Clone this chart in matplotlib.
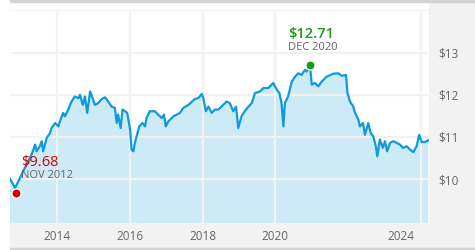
import matplotlib
matplotlib.use("Agg")
import matplotlib.pyplot as plt
from matplotlib.patches import Rectangle
from matplotlib.transforms import ScaledTranslation

plt.rcParams['font.family'] = ['Open Sans', 'DejaVu Sans']

# ========================
# Data (decimal years / price in $)
# ========================
years = [
    2012.71, 2012.85, 2012.94, 2013.03, 2013.12, 2013.21, 2013.30, 2013.40, 2013.44, 2013.53,
    2013.58, 2013.62, 2013.72, 2013.81, 2013.85, 2013.95, 2014.04, 2014.08, 2014.17, 2014.22,
    2014.31, 2014.40, 2014.49, 2014.59, 2014.63, 2014.71, 2014.77, 2014.83, 2014.91, 2014.98,
    2015.04, 2015.13, 2015.23, 2015.32, 2015.41, 2015.50, 2015.59, 2015.64, 2015.68, 2015.75,
    2015.80, 2015.87, 2015.93, 2016.01, 2016.05, 2016.10, 2016.14, 2016.21, 2016.26, 2016.35,
    2016.42, 2016.46, 2016.55, 2016.69, 2016.78, 2016.88, 2016.94, 2016.99, 2017.06, 2017.20,
    2017.38, 2017.47, 2017.61, 2017.79, 2017.88, 2017.98, 2018.02, 2018.09, 2018.16, 2018.25,
    2018.34, 2018.43, 2018.52, 2018.66, 2018.75, 2018.84, 2018.92, 2018.98, 2019.07, 2019.16,
    2019.26, 2019.35, 2019.44, 2019.58, 2019.67, 2019.81, 2019.94, 2020.04, 2020.11, 2020.17,
    2020.22, 2020.26, 2020.35, 2020.45, 2020.54, 2020.63, 2020.72, 2020.81, 2020.86, 2020.95,
    2021.00, 2021.09, 2021.18, 2021.27, 2021.41, 2021.59, 2021.73, 2021.82, 2021.94, 2021.98,
    2022.05, 2022.14, 2022.19, 2022.28, 2022.32, 2022.41, 2022.46, 2022.55, 2022.62, 2022.69,
    2022.76, 2022.80, 2022.87, 2022.95, 2023.01, 2023.07, 2023.15, 2023.24, 2023.33, 2023.42,
    2023.51, 2023.61, 2023.70, 2023.79, 2023.88, 2023.95, 2024.02, 2024.11, 2024.20,
]
prices = [
    10.01, 9.79, 9.95, 10.11, 10.27, 10.42, 10.58, 10.82, 10.66, 10.78,
    10.90, 10.66, 10.98, 11.09, 11.21, 11.33, 11.25, 11.37, 11.57, 11.49,
    11.65, 11.84, 11.96, 11.92, 12.00, 11.76, 11.96, 11.57, 12.08, 11.92,
    11.76, 11.80, 11.90, 11.94, 11.84, 11.72, 11.69, 11.33, 11.53, 11.21,
    11.65, 11.61, 11.57, 11.17, 10.70, 10.66, 10.86, 11.09, 11.25, 11.33,
    11.25, 11.45, 11.61, 11.61, 11.53, 11.45, 11.53, 11.25, 11.37, 11.49,
    11.57, 11.69, 11.76, 11.90, 11.92, 12.02, 11.92, 11.61, 11.72, 11.57,
    11.65, 11.65, 11.72, 11.84, 11.80, 11.61, 11.72, 11.21, 11.49, 11.61,
    11.72, 11.80, 12.04, 12.08, 12.16, 12.16, 12.28, 12.12, 12.04, 11.80,
    11.25, 11.80, 11.96, 12.31, 12.43, 12.51, 12.47, 12.59, 12.55, 12.71,
    12.24, 12.28, 12.20, 12.31, 12.43, 12.50, 12.51, 12.45, 12.47, 12.04,
    11.84, 11.72, 11.57, 11.41, 11.25, 11.33, 11.05, 11.33, 11.09, 11.01,
    10.78, 10.54, 10.94, 10.74, 10.90, 10.66, 10.86, 10.90, 10.86, 10.82,
    10.74, 10.78, 10.70, 10.64, 10.78, 11.05, 10.88, 10.88, 10.92,
]

low_point = (2012.87, 9.68)
high_point = (2020.95, 12.71)
low_labels = ("$9.68", "NOV 2012")
high_labels = ("$12.71", "DEC 2020")

x_ticks = [2014, 2016, 2018, 2020, 2024]
y_ticks = [10, 11, 12, 13, 14]
y_tick_labels = ["$10", "$11", "$12", "$13", ""]

# ========================
# Figure / frame
# ========================
W, H = 475, 250
fig = plt.figure(figsize=(W / 100, H / 100), dpi=100)

panel = "#f2f2f2"
# right side panel and bottom panel (behind the axes)
fig.patches.append(Rectangle((429 / W, 2 / H), 46 / W, 246 / H, transform=fig.transFigure,
                             color=panel, zorder=-1))
fig.patches.append(Rectangle((10 / W, 2 / H), 465 / W, 25 / H, transform=fig.transFigure,
                             color=panel, zorder=-1))
# thin borders top and bottom
fig.patches.append(Rectangle((10 / W, 248 / H), 465 / W, 2 / H, transform=fig.transFigure,
                             color="#d3d3d3", zorder=-1))
fig.patches.append(Rectangle((10 / W, 0), 465 / W, 2 / H, transform=fig.transFigure,
                             color="#d3d3d3", zorder=-1))

ax = fig.add_axes([10 / W, 27 / H, 419 / W, 213 / H])
ax.set_xlim(2012.71, 2024.22)
ax.set_ylim(8.96, 14.01)
for s in ax.spines.values():
    s.set_visible(False)

ax.fill_between(years, prices, 0, color="#cdeaf7", linewidth=0, zorder=0.2)
ax.plot(years, prices, color="#0f9bdb", linewidth=1.6, zorder=2)

ax.set_axisbelow(True)
ax.grid(True, color="#f2f2f2", linewidth=1.6)

ax.set_xticks(x_ticks)
ax.set_xticklabels([str(t) for t in x_ticks])
ax.yaxis.tick_right()
ax.set_yticks(y_ticks)
ax.set_yticklabels(y_tick_labels)
ax.tick_params(axis="both", length=0, labelcolor="#666666", labelsize=8.5)
ax.tick_params(axis="x", pad=5)
ax.tick_params(axis="y", pad=7)

# last year label is pulled left so it stays inside the frame
last = ax.get_xticklabels()[-1]
last.set_transform(last.get_transform() + ScaledTranslation(-0.20, 0, fig.dpi_scale_trans))

# ========================
# Low / high markers
# ========================
ax.plot(*low_point, "o", color="#d40000", markersize=6.5, markeredgecolor="white",
        markeredgewidth=0.8, zorder=4, clip_on=False)
ax.plot(*high_point, "o", color="#169c16", markersize=6.5, markeredgecolor="white",
        markeredgewidth=0.8, zorder=4, clip_on=False)

ax.annotate(low_labels[0], low_point, xytext=(5, 30), textcoords="offset pixels",
            ha="left", va="center", color="#d40000", fontsize=10.5, zorder=5)
ax.annotate(low_labels[1], low_point, xytext=(5, 17), textcoords="offset pixels",
            ha="left", va="center", color="#666666", fontsize=8, zorder=5)
ax.annotate(high_labels[0], high_point, xytext=(-22, 31), textcoords="offset pixels",
            ha="left", va="center", color="#169c16", fontsize=10.5, fontweight="semibold",
            zorder=5)
ax.annotate(high_labels[1], high_point, xytext=(-22, 17), textcoords="offset pixels",
            ha="left", va="center", color="#666666", fontsize=8, zorder=5)

fig.savefig("out.png", dpi=100)
